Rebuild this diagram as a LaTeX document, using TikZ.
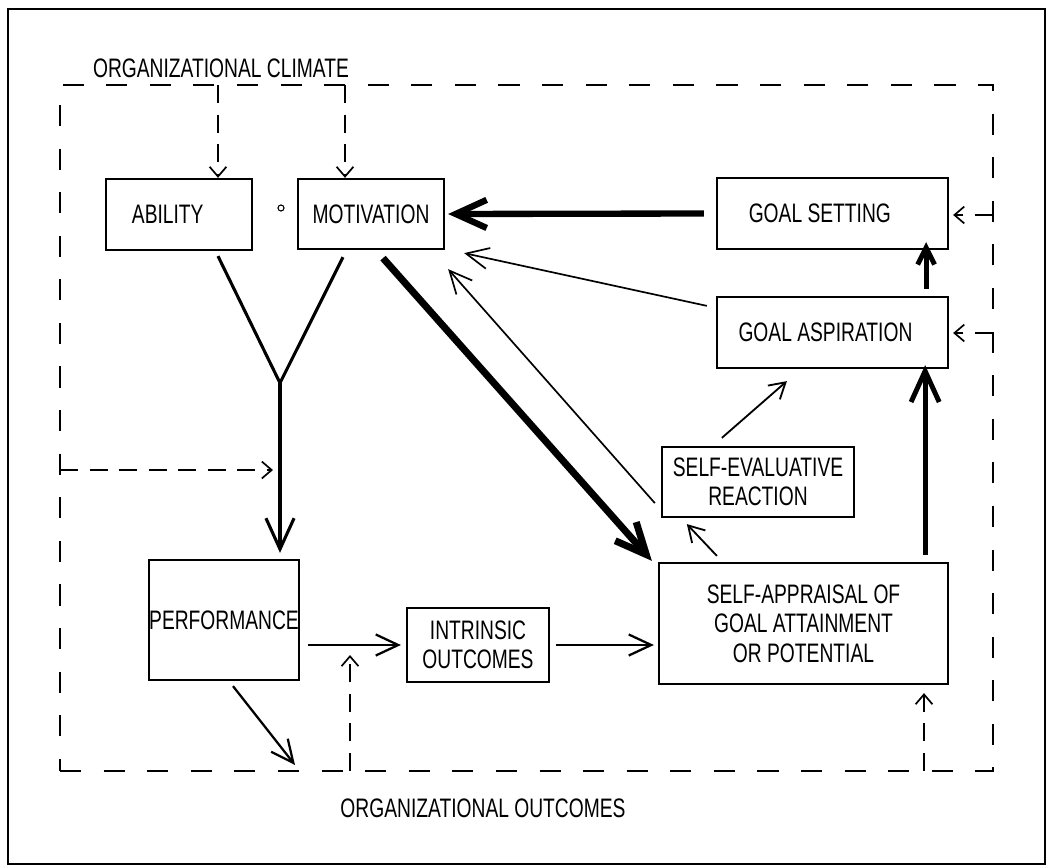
\documentclass[tikz,border=0pt]{standalone}
\usepackage{fontspec}
\setmainfont[FakeStretch=0.72]{Liberation Sans}
\usetikzlibrary{arrows.meta, positioning, calc}
\newcommand{\pxu}{0.025cm}

\begin{document}
\begin{tikzpicture}[x=0.025cm, y=-0.025cm,
    font=\fontsize{19}{21}\selectfont,
    box/.style={draw, line width=1.6pt, align=center, inner sep=0pt},
    framedash/.style={line width=1.3pt, dash pattern=on 15pt off 16pt},
    dasharrow/.style={line width=1.2pt, dash pattern=on 13pt off 8pt,
      -{Straight Barb[length=7pt, width=12pt]}},
    thinarrow/.style={line width=1.3pt, -{Straight Barb[length=16pt, width=15pt]}},
    heavyarrow/.style={-{Straight Barb[length=22pt, width=20pt]}}]
  \useasboundingbox (0,0) rectangle (1048,868);
  \draw[line width=1.4pt] (8,9) rectangle (1045,864);
  % dashed frame
  \node[framedash, draw, minimum width=933*\pxu, minimum height=686*\pxu,
    inner sep=0pt] (frame) at (526.5,428) {};
  \node (climate) at (221,68) {ORGANIZATIONAL CLIMATE};
  \node (outcomes) at (483,808) {ORGANIZATIONAL OUTCOMES};
  % boxes
  \node[box, minimum width=146*\pxu, minimum height=71*\pxu] (ability) at (179,214.5) {ABILITY\hspace*{16pt}};
  \node[circle, draw, line width=0.8pt, inner sep=0pt, minimum size=6*\pxu] (compose) at (281,208) {};
  \node[box, minimum width=146*\pxu, minimum height=70*\pxu] (motiv) at (371,214) {MOTIVATION};
  \node[box, minimum width=231*\pxu, minimum height=71*\pxu] (goalset) at (832.5,213.5) {GOAL SETTING\hspace*{18pt}};
  \node[box, minimum width=231*\pxu, minimum height=71*\pxu] (goalasp) at (832.5,332.5) {GOAL ASPIRATION\hspace*{10pt}};
  \node[box, minimum width=192*\pxu, minimum height=70*\pxu] (selfeval) at (758,482) {SELF-EVALUATIVE\\REACTION};
  \node[box, minimum width=289*\pxu, minimum height=121*\pxu] (apprais) at (803.5,623.5)
    {SELF-APPRAISAL OF\\GOAL ATTAINMENT\\OR POTENTIAL};
  \node[box, minimum width=142*\pxu, minimum height=120*\pxu] (perf) at (224,620) {\raisebox{-10pt}{PERFORMANCE}};
  \node[box, minimum width=142*\pxu, minimum height=74*\pxu] (intrins) at (478,645) {INTRINSIC\\OUTCOMES};
  % points on the frame
  \coordinate (climA) at (218,85);
  \coordinate (climM) at (345,85);
  \coordinate (leftin) at (60,470);
  \coordinate (rightS) at (993,215);
  \coordinate (rightA) at (993,333);
  \coordinate (outI) at (350,771);
  \coordinate (outA) at (924,771);
  \coordinate (outP) at (295,765);
  \coordinate (join) at (280,383);
  % climate and outcome feeds
  \draw[dasharrow] (climA) -- (climA |- ability.north);
  \draw[dasharrow] (climM) -- (climM |- motiv.north);
  \draw[dasharrow] (leftin) -- ($(leftin -| join)+(-7,0)$);
  \draw[dasharrow] (rightS) -- ($(rightS -| goalset.east)+(4,0)$);
  \draw[dasharrow] (rightA) -- ($(rightA -| goalasp.east)+(4,0)$);
  \draw[dasharrow] (outI) -- ($(outI |- intrins.west)+(0,10)$);
  \draw[dasharrow] (outA) -- ($(outA |- apprais.south)+(0,8)$);
  % ability x motivation
  \draw[line width=2.2pt] ($(ability.south)+(39,5)$) -- (join);
  \draw[line width=2.2pt] ($(motiv.south)+(-28,7)$) -- (join);
  \draw[heavyarrow, line width=2.2pt] (join) -- ($(join |- perf.north)+(0,-6)$);
  % main paths
  \draw[heavyarrow, line width=5pt] ($(motiv.south)+(12,8)$) -- ($(apprais.north west)+(-6,-1)$);
  \draw[thinarrow, line width=1.2pt] ($(selfeval.south west)+(-6,-15)$) -- ($(motiv.south east)+(3,19)$);
  \draw[thinarrow, line width=1.2pt] ($(goalasp.north west)+(-9,10)$) -- ($(motiv.south east)+(19,3)$);
  \draw[heavyarrow, line width=4.5pt] ($(goalset.west)+(-12,0)$) -- ($(motiv.east)+(3,0)$);
  \draw[-{Straight Barb[length=12pt, width=12pt]}, line width=3.5pt]
    ($(goalasp.north east)+(-23,-7)$) -- ($(goalset.south east)+(-23,-8)$);
  \draw[heavyarrow, line width=3.5pt] ($(apprais.north east)+(-24,-7)$) -- ($(goalasp.south east)+(-24,-4)$);
  \draw[thinarrow, -{Straight Barb[length=11pt, width=13pt]}]
    ($(apprais.north west)+(59,-6)$) -- ($(selfeval.south west)+(26,6)$);
  \draw[thinarrow, -{Straight Barb[length=11pt, width=13pt]}]
    ($(selfeval.north west)+(61,-8)$) -- ($(goalasp.south west)+(71,12)$);
  \draw[thinarrow, line width=1.6pt] ($(perf.east |- intrins.west)+(8,0)$) -- ($(intrins.west)+(-5,0)$);
  \draw[thinarrow, line width=1.6pt] ($(intrins.east)+(6,0)$) -- ($(intrins.east -| apprais.west)+(-4,0)$);
  \draw[thinarrow, line width=1.6pt] ($(perf.south)+(9,5)$) -- (outP);
\end{tikzpicture}
\end{document}
